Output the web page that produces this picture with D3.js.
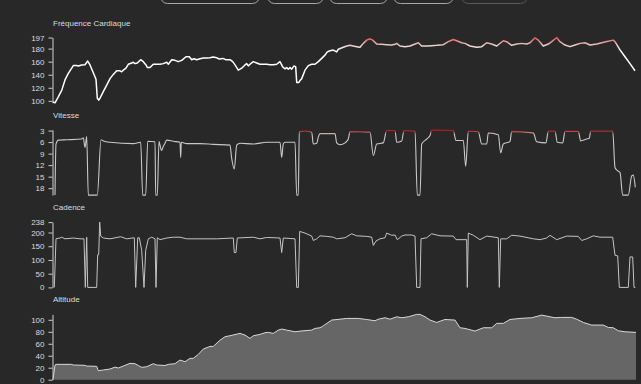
<!DOCTYPE html>
<html><head><meta charset="utf-8">
<script src="https://cdn.jsdelivr.net/npm/d3@7"></script>
<style>
html,body{margin:0;padding:0;background:#282828;}
svg{display:block;font-family:"Liberation Sans",Arial,Helvetica,sans-serif;}
</style></head>
<body>
<svg id="chart" width="641" height="384"></svg>
<script>
// ---- Data (t = minutes elapsed) ----
const panelTitles = ["Fréquence Cardiaque", "Vitesse", "Cadence", "Altitude"];
const hrTicks = [100,120,140,160,180,197];
const paceTicks = [3,6,9,12,15,18];
const cadTicks = [0,50,100,150,200,238];
const altTicks = [0,20,40,60,80,100];
const buttons = ["", "", "", "", ""];

const hrData = [[0,98.5],[0.2,97],[0.53,106],[0.87,116],[1.2,132],[1.53,142],[1.87,150],[2.03,154],[2.37,154],[2.53,153.5],[2.87,155],[3.2,155.3],[3.47,161],[3.7,155],[4.03,143],[4.3,133],[4.43,104],[4.57,101],[4.7,104],[5.03,114],[5.37,124],[5.7,134],[6.03,140.5],[6.37,146],[6.7,146],[6.87,144.5],[7.03,147],[7.3,150],[7.53,156],[7.87,158],[8.03,159],[8.2,157],[8.43,158],[8.77,163],[9.03,160],[9.3,155],[9.43,151],[9.7,151],[10.03,156],[10.37,156],[10.7,156],[11.03,157],[11.37,159],[11.53,156],[11.87,163],[12.2,162],[12.53,160],[12.87,162],[13.3,167.5],[13.63,167.5],[13.87,163],[14.1,164.5],[14.37,163],[14.7,164.5],[15.03,165.5],[15.37,165.5],[15.7,166],[16.03,167],[16.37,166],[16.63,164],[16.97,165],[17.3,163],[17.7,163],[17.97,160],[18.2,155],[18.53,147],[18.87,150],[19.2,155],[19.37,157],[19.53,153.5],[19.7,156],[20.03,160],[20.37,158],[20.7,156],[21.03,156],[21.37,156],[21.7,155.3],[22.03,155.3],[22.37,156],[22.7,160],[22.97,152],[23.2,149],[23.37,151],[23.53,148.5],[23.7,151],[23.87,148.5],[24.1,153.5],[24.27,152],[24.37,128],[24.57,128],[24.7,131],[24.87,134],[25.2,147],[25.53,154],[25.87,156],[26.2,156],[26.53,160],[26.87,165],[27.2,170],[27.43,175],[27.7,176.7],[28.03,177.8],[28.37,175],[28.53,179],[29.03,182],[29.37,184],[29.7,185],[30.03,184],[30.37,183],[30.7,182],[31.03,188],[31.37,193],[31.7,195],[31.97,193],[32.37,187],[32.87,186.5],[33.37,186],[33.87,185.5],[34.2,186.5],[34.37,188],[34.7,184],[35.2,183],[35.7,184],[36.2,187],[36.53,189],[36.87,184],[37.37,184],[37.87,184.5],[38.37,185],[39.03,186],[39.53,190.6],[40.03,194],[40.37,192],[40.87,189],[41.2,188],[41.7,184],[42.37,182],[42.87,183],[43.37,189],[43.87,187],[44.37,184],[45.03,192],[45.37,190.6],[45.87,185],[46.37,187],[46.87,188],[47.37,187],[47.7,189],[48.2,196.5],[48.53,193],[49.03,184],[49.53,187],[49.87,190.6],[50.37,197],[50.7,190.6],[51.2,185.5],[51.7,183],[52.2,185.5],[52.7,188],[53.2,189],[53.7,185.5],[54.37,187],[54.87,189],[55.37,191],[56.03,193],[56.2,190.6],[56.7,178],[57.2,167.5],[57.7,157],[58.2,146]];

const paceData = [[0.2,19.8],[0.3,6.5],[0.53,5.5],[1.37,5.4],[2.87,5.2],[3.03,4.9],[3.2,7.4],[3.37,4.5],[3.53,19.8],[4.43,19.8],[4.8,5.4],[5.03,5.7],[5.7,6.05],[8.03,6.4],[8.77,6.05],[8.97,19.8],[9.27,19.8],[9.47,5.8],[10.2,5.9],[10.27,19.8],[10.43,19.8],[10.6,5.8],[10.7,6.8],[10.87,8.2],[11.03,7.1],[11.2,6.3],[11.37,5.5],[12.03,5.8],[12.7,6.05],[12.77,10],[12.83,6.05],[13.37,6.4],[14.7,6.4],[16.03,6.6],[17.7,6.8],[17.87,10.25],[18.13,13],[18.37,6.8],[18.7,6.3],[20.03,6.5],[21.37,6.05],[22.7,6.05],[22.87,10],[23.03,6.5],[23.2,6.05],[24.2,6.05],[24.37,19.8],[24.53,19.8],[24.63,3.3],[25.2,3.1],[25.87,3.44],[26.03,6.5],[26.37,6.3],[26.55,4.5],[26.7,3.8],[28.2,3.8],[28.37,6.2],[28.7,6.7],[29.2,6.2],[29.53,5.2],[29.7,3.26],[31.7,3.4],[32.03,9.5],[32.37,6.5],[33.03,6.2],[33.37,3.0],[34.2,3.0],[34.37,6.05],[34.87,5.7],[35.1,3.0],[36.2,3.1],[36.43,19.8],[36.7,19.8],[36.87,6.5],[37.37,5.2],[37.7,4.3],[37.87,2.85],[40.03,3.0],[40.3,5.6],[41.03,5.6],[41.27,12.3],[41.53,3.1],[42.53,3.3],[42.87,6.5],[43.37,6.5],[43.53,3.6],[44.53,4.1],[44.77,8.8],[45.03,6.5],[45.7,5.8],[45.87,3.2],[48.03,3.6],[48.37,5.9],[49.3,6.2],[49.53,3.1],[50.2,3.1],[50.43,6.05],[50.97,6.2],[51.2,3.2],[52.53,3.2],[52.77,5.7],[53.37,5.2],[53.63,5.0],[53.77,3.1],[55.97,3.1],[56.2,12.6],[56.47,13.5],[56.7,13.9],[56.97,19.8],[57.53,19.8],[57.87,14.8],[58.03,14.6],[58.23,17.8]];

const cadData = [[0.13,0],[0.3,177.5],[0.7,180],[0.87,183],[1.2,177],[2.03,180],[2.7,177],[3.1,177],[3.23,0],[3.37,183],[3.47,0],[4.37,0],[4.47,119],[4.57,119],[4.67,238],[4.77,187],[5.03,180],[5.7,177],[6.77,184.7],[7.37,177],[8.13,181],[8.27,0],[8.47,181],[8.63,181],[8.87,135],[9.1,0],[9.27,135],[9.53,177],[9.87,183],[10.2,177],[10.3,0],[10.43,181],[10.7,174],[11.37,180],[12.03,183],[12.7,183],[13.37,177],[14.7,177],[16.37,177],[18.03,180],[18.13,127],[18.3,127],[18.43,180],[20.03,183],[20.7,177],[21.37,182],[22.7,180],[22.87,127],[23.03,180],[24.2,177],[24.37,0],[24.53,0],[24.67,204],[25.2,198],[25.87,187],[26.03,171],[26.37,177],[26.7,188],[27.37,186],[28.03,183],[28.37,177],[29.2,181],[29.87,195.5],[30.37,188],[31.37,186],[31.87,183],[32.03,153],[32.3,169],[32.7,177],[33.2,181],[33.37,198],[33.87,190],[34.2,191],[34.43,174],[34.87,187],[35.2,191],[35.87,191],[36.2,187],[36.37,0],[36.7,0],[36.8,177],[37.37,181],[37.87,195.5],[38.7,188],[40.03,187],[40.3,174],[41.37,174],[41.43,0],[41.53,198],[42.03,190],[42.7,174],[43.37,187],[44.53,181],[44.63,0],[44.77,177],[45.37,177],[45.87,190],[46.7,187],[48.03,177],[48.7,174],[49.37,180],[49.7,190],[50.37,174],[51.37,187],[52.53,186],[52.87,171],[53.37,177],[54.03,188],[54.7,183],[55.97,183],[56.2,117],[56.47,115],[56.63,0],[57.53,0],[57.7,111],[57.97,111],[58.1,0],[58.23,0]];

const altData = [[0,0],[0.2,24.5],[0.3,25.6],[0.87,25.6],[1.87,25.6],[2.03,24.5],[3.2,24],[3.37,22.8],[4.37,22.3],[4.53,15],[5.03,16.2],[5.7,17.8],[6.2,21],[6.53,19.5],[7.03,22.8],[7.7,27.3],[8.2,26.7],[8.53,23.7],[8.87,20.6],[9.37,21.7],[10.03,26.7],[10.37,24.5],[11.2,23.7],[11.53,25.6],[12.2,26.7],[12.7,32.8],[13.2,30],[13.7,35.6],[14.03,35.6],[14.53,42.2],[15.03,51.2],[15.7,55.6],[16.03,55.6],[16.7,66],[17.2,71.7],[17.7,73.4],[18.7,77.3],[19.2,74.5],[19.7,69],[20.03,73.4],[20.7,75.6],[21.2,78.4],[21.53,79],[22.03,77.3],[22.53,82.8],[22.87,84.5],[23.37,82.8],[24.2,80],[24.7,81.1],[25.87,82.8],[26.2,85.6],[26.7,86.7],[27.03,90],[27.87,99.5],[28.7,101],[29.37,102.3],[30.53,102.3],[31.37,100.5],[32.2,98.4],[32.53,101],[33.2,103.4],[33.7,101],[34.37,105],[34.87,103.4],[35.53,105],[36.37,109],[36.7,109],[37.2,105],[37.7,99.5],[38.37,95.6],[39.2,100.5],[40.2,99.5],[40.7,86.7],[41.2,85.6],[42.2,81.2],[43.03,86.7],[43.87,86.7],[44.37,94],[45.03,94],[45.7,100.5],[46.7,102.3],[47.87,103.4],[48.87,107.8],[49.7,105],[50.2,103.4],[50.87,104],[51.87,104],[52.37,101],[53.03,95.6],[53.87,91.2],[55.03,91.2],[55.53,87.2],[56.03,86.7],[56.53,81.7],[57.2,80],[58.3,79]];

// ---- Layout ----
const W = 641, H = 384;
const svg = d3.select("#chart");
svg.append("rect").attr("width", W).attr("height", H).attr("fill", "#282828");

// top buttons (cut off by top edge)
const btnX = d3.scaleOrdinal().domain(d3.range(5)).range([[160,99],[267,56],[329,58],[393,60],[461,66]]);
buttons.forEach((b,i)=>{
  const [bx,bw] = btnX(i);
  svg.append("rect").attr("x", bx+0.5).attr("y", -14.5).attr("width", bw).attr("height", 18)
    .attr("rx", 7).attr("fill", "none").attr("stroke", i===4 ? "#5a5a5a" : "#a8a8a8").attr("stroke-width", 1);
});

const x = d3.scaleLinear().domain([0, 58.3]).range([53, 636]);
const axisX = 52.5;
const panelTop = i => 37.5 + i*92.3;
const panelH = 65.3;

function drawAxis(i, scale, ticks){
  const g = svg.append("g").attr("transform", `translate(${axisX},0)`)
    .call(d3.axisLeft(scale).tickValues(ticks).tickSize(4).tickSizeOuter(0).tickPadding(4));
  g.select(".domain").attr("stroke", "#d0d0d0");
  g.selectAll(".tick line").attr("stroke", "#d0d0d0");
  g.selectAll(".tick text").attr("fill", "#dcdcdc").style("font-size", "8px")
    .style("font-family", '"Liberation Sans",Arial,sans-serif');
  svg.append("text").attr("x", 53).attr("y", panelTop(i) - 12)
    .attr("fill", "#dcdcdc").style("font-size", "8px").text(panelTitles[i]);
}

const defs = svg.append("defs");
function vGrad(id, y1, y2, c1, c2, mid){
  const gr = defs.append("linearGradient").attr("id", id).attr("gradientUnits", "userSpaceOnUse")
    .attr("x1", 0).attr("x2", 0).attr("y1", y1).attr("y2", y2);
  gr.append("stop").attr("offset", 0).attr("stop-color", c1);
  if (mid) gr.append("stop").attr("offset", mid[0]).attr("stop-color", mid[1]);
  gr.append("stop").attr("offset", 1).attr("stop-color", c2);
}

// Panel 0: heart rate
const yHR = d3.scaleLinear().domain([97, 197]).range([panelTop(0)+panelH, panelTop(0)]);
drawAxis(0, yHR, hrTicks);
vGrad("hrGrad", yHR(176), yHR(197), "#ffffff", "#ee5050", [0.45, "#e6cccc"]);
svg.append("path").datum(hrData)
  .attr("d", d3.line().x(d=>x(d[0])).y(d=>yHR(d[1])))
  .attr("fill", "none").attr("stroke", "url(#hrGrad)").attr("stroke-width", 1.5).attr("stroke-linejoin", "round");

// Panel 1: pace (inverted)
const yPace = d3.scaleLinear().domain([2.8, 19.8]).range([panelTop(1), panelTop(1)+panelH]);
drawAxis(1, yPace, paceTicks);
vGrad("paceGrad", yPace(3.9), yPace(3.05), "#c8c8c8", "#c01c1c");
svg.append("path").datum(paceData)
  .attr("d", d3.line().curve(d3.curveMonotoneX).x(d=>x(d[0])).y(d=>yPace(d[1])))
  .attr("fill", "none").attr("stroke", "url(#paceGrad)").attr("stroke-width", 1.1);

// Panel 2: cadence
const yCad = d3.scaleLinear().domain([0, 238]).range([panelTop(2)+panelH, panelTop(2)]);
drawAxis(2, yCad, cadTicks);
svg.append("path").datum(cadData)
  .attr("d", d3.line().x(d=>x(d[0])).y(d=>yCad(d[1])))
  .attr("fill", "none").attr("stroke", "#c4c4c4").attr("stroke-width", 1);

// Panel 3: altitude
const yAlt = d3.scaleLinear().domain([0, d3.max(altData, d=>d[1])]).range([panelTop(3)+panelH, panelTop(3)]);
drawAxis(3, yAlt, altTicks);
svg.append("path").datum(altData)
  .attr("d", d3.area().x(d=>x(d[0])).y0(yAlt(0)).y1(d=>yAlt(d[1])))
  .attr("fill", "#666666");
svg.append("path").datum(altData)
  .attr("d", d3.line().x(d=>x(d[0])).y(d=>yAlt(d[1])))
  .attr("fill", "none").attr("stroke", "#d8d8d8").attr("stroke-width", 1);
</script>
</body></html>
